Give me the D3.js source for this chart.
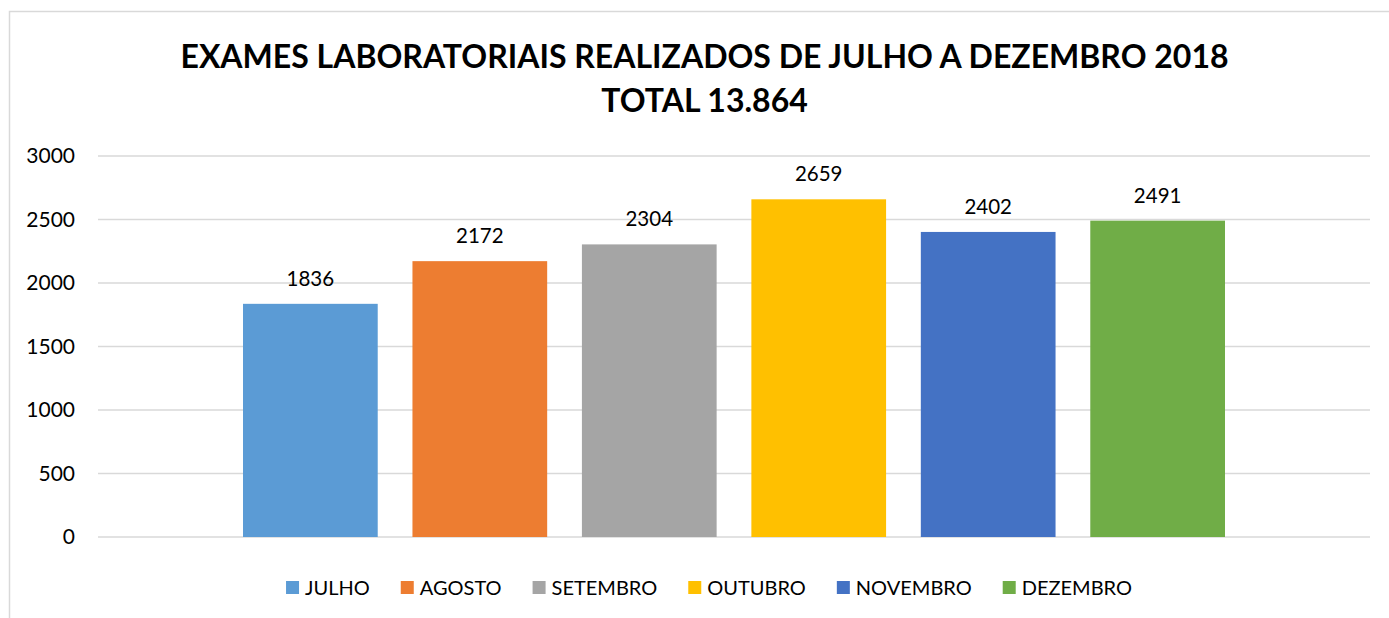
<!DOCTYPE html>
<html>
<head>
<meta charset="utf-8">
<script src="https://cdn.jsdelivr.net/npm/d3@7"></script>
<style>
  body { margin: 0; background: #fff; }
  svg { display: block; font-family: Lato, "Open Sans", sans-serif; }
</style>
</head>
<body>
<div id="chart"></div>
<script>
// data
const months = ["JULHO", "AGOSTO", "SETEMBRO", "OUTUBRO", "NOVEMBRO", "DEZEMBRO"];
const values = [1836, 2172, 2304, 2659, 2402, 2491];
const colors = ["#5B9BD5", "#ED7D31", "#A5A5A5", "#FFC000", "#4472C4", "#70AD47"];
const yTicks = [0, 500, 1000, 1500, 2000, 2500, 3000];
const titleLines = ["EXAMES LABORATORIAIS REALIZADOS DE JULHO A DEZEMBRO 2018", "TOTAL 13.864"];

const W = 1389, H = 618;
const plot = { left: 98, right: 1370, top: 156, bottom: 537 };

const svg = d3.select("#chart").append("svg")
  .attr("width", W)
  .attr("height", H);

// chart frame (runs off the right/bottom edges like the screenshot)
svg.append("rect")
  .attr("x", 9.5).attr("y", 11.5)
  .attr("width", 1420).attr("height", 640)
  .attr("fill", "#fff")
  .attr("stroke", "#d9d9d9")
  .attr("stroke-width", 1.5);

// title
svg.append("g").selectAll("text")
  .data(titleLines)
  .enter().append("text")
  .attr("x", 704.5)
  .attr("y", (d, i) => 68 + i * 44)
  .attr("text-anchor", "middle")
  .attr("font-size", 32)
  .attr("font-weight", "bold")
  .attr("fill", "#000")
  .text(d => d);

const y = d3.scaleLinear()
  .domain([0, 3000])
  .range([plot.bottom, plot.top]);

// one category holding six series, so the bars sit grouped in the middle
const x = d3.scaleBand()
  .domain(months)
  .range([243, 1225])
  .paddingInner(0.205)
  .paddingOuter(0);

// gridlines
svg.append("g")
  .selectAll("line")
  .data(yTicks)
  .enter().append("line")
  .attr("x1", plot.left).attr("x2", plot.right)
  .attr("y1", d => y(d)).attr("y2", d => y(d))
  .attr("stroke", "#d9d9d9")
  .attr("stroke-width", 1.5);

// y axis labels
const yAxis = svg.append("g")
  .attr("transform", "translate(" + plot.left + ",0)")
  .call(d3.axisLeft(y).tickValues(yTicks).tickFormat(d3.format("d")).tickSize(0).tickPadding(23));
yAxis.select(".domain").remove();
yAxis.selectAll("text")
  .attr("font-family", "Lato, sans-serif")
  .attr("font-size", 21)
  .attr("fill", "#000");

// bars
svg.append("g")
  .selectAll("rect")
  .data(values)
  .enter().append("rect")
  .attr("x", (d, i) => x(months[i]))
  .attr("y", d => y(d))
  .attr("width", x.bandwidth())
  .attr("height", d => y(0) - y(d))
  .attr("fill", (d, i) => colors[i]);

// value labels
svg.append("g")
  .selectAll("text")
  .data(values)
  .enter().append("text")
  .attr("x", (d, i) => x(months[i]) + x.bandwidth() / 2)
  .attr("y", d => y(d) - 18)
  .attr("text-anchor", "middle")
  .attr("font-size", 20.5)
  .attr("fill", "#000")
  .text(d => d);

// legend
const legend = svg.append("g");
const items = legend.selectAll("g")
  .data(months)
  .enter().append("g");
items.append("rect")
  .attr("width", 13).attr("height", 13)
  .attr("y", -14)
  .attr("fill", (d, i) => colors[i]);
items.append("text")
  .attr("x", 19)
  .attr("font-size", 20)
  .attr("fill", "#000")
  .text(d => d);

let cursor = 0;
items.each(function () {
  const g = d3.select(this);
  const w = 19 + g.select("text").node().getComputedTextLength();
  g.attr("transform", "translate(" + cursor + ",0)");
  cursor += w + 31;
});
const legendWidth = cursor - 31;
legend.attr("transform", "translate(" + (709 - legendWidth / 2) + ",595)");
</script>
</body>
</html>
